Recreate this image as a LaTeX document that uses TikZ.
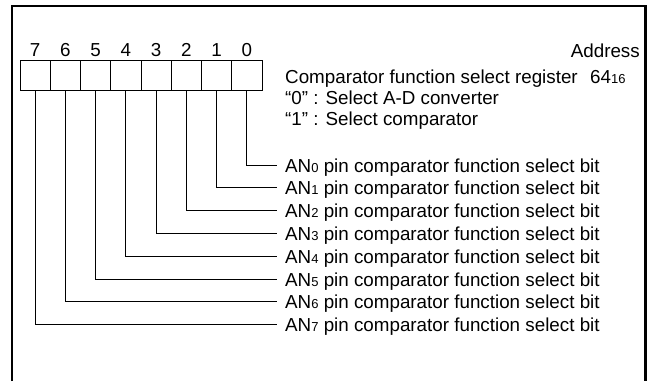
\documentclass[tikz,border=0pt]{standalone}
\usepackage{fontspec}
\setmainfont{Liberation Sans}
\newcommand{\subdig}[1]{{\fontsize{13}{13}\selectfont #1}}
\tikzset{
  cell/.style={draw,line width=0.9pt,minimum width=30.25pt,minimum height=30pt,inner sep=0pt},
  bitlabel/.style={anchor=west,inner xsep=8pt,inner ysep=0pt,text height=14pt,text depth=0pt},
  txt/.style={inner sep=0pt}
}
\begin{document}
\begin{tikzpicture}[x=1pt,y=-1pt,font=\fontsize{18.8}{22}\selectfont]
  \useasboundingbox (0,0) rectangle (651,381);
  \draw[line width=2.4pt] (12,381) -- (12,6) -- (645.5,6) -- (645.5,381);
  \foreach \i in {0,...,7}{
    \node[cell] (b\i) at ({35.125+30.25*(7-\i)},75) {};
    \node[txt,anchor=base] at ([yshift=3pt]b\i.north) {\i};
    \node[bitlabel] (t\i) at (277,{165+22.8*\i}) {AN\subdig{\i} pin comparator function select bit};
    \draw[line width=0.9pt] (b\i.south) |- (t\i.west);
  }
  \node[txt,anchor=base east] (addr) at (640,57) {Address};
  \node[txt,anchor=base west] (reg) at (285,83) {Comparator function select register};
  \node[txt,anchor=base west] (val) at (590,83) {64\subdig{16}};
  \node[txt,anchor=base west] (sel0) at (285,104) {“0” : Select A-D converter};
  \node[txt,anchor=base west] (sel1) at (285,125) {“1” : Select comparator};
\end{tikzpicture}
\end{document}
